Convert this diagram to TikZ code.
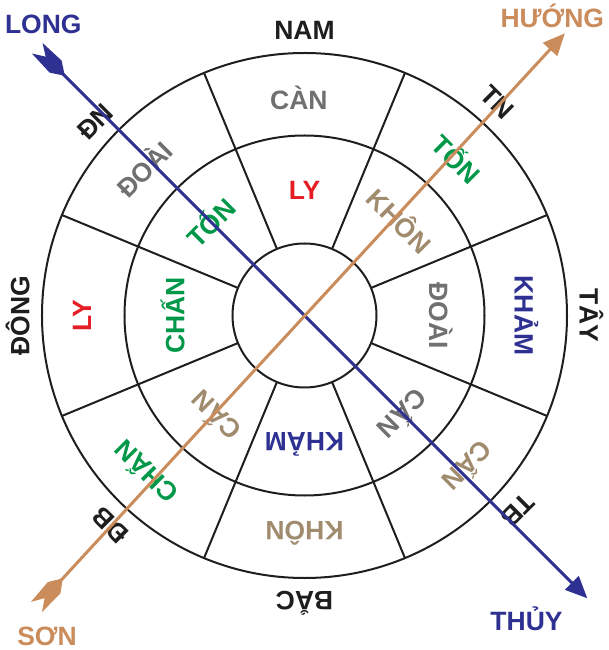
\documentclass[tikz,border=0pt]{standalone}
\usepackage{fontspec}
\setmainfont{Liberation Sans}
\usetikzlibrary{arrows.meta}
\definecolor{navy}{RGB}{46,49,146}
\definecolor{copper}{RGB}{203,140,92}
\definecolor{khaki}{RGB}{160,139,110}
\definecolor{slate}{RGB}{112,112,112}
\definecolor{jade}{RGB}{0,152,72}
\definecolor{crimson}{RGB}{228,30,36}
\definecolor{ink}{RGB}{30,30,30}
\tikzset{
  lbl/.style={font=\bfseries\fontsize{26.5}{30}\selectfont, inner sep=0pt, text height=19pt, text depth=0pt},
  ring/.style={draw=ink, line width=2pt},
  axis/.style={draw=#1, line width=3pt, shorten <=14pt, arrows={-Triangle[length=22pt,width=19pt,fill=#1]}},
  fletch/.pic={\fill (0,7.5) -- (26,8.5) -- (39,0) -- (26,-8.5) -- (0,-7.5) -- (12,0) -- cycle;},
}
\begin{document}
\begin{tikzpicture}[x=1pt,y=1pt]
  \useasboundingbox (-304.5,-334.5) rectangle (303.5,315.5);
  %% Rings
  \coordinate (O) at (0,0);
  \draw[ring] (O) circle (72pt) (O) circle (180pt) (O) circle (262.5pt);
  \foreach \a in {22.5,67.5,...,337.5}
    \draw[ring] (\a:72pt) -- (\a:262.5pt);
  %% Directions
  \node[lbl, text=ink] (nam)  at (90:285.5pt)   {NAM};
  \node[lbl, text=ink, rotate=-45] (tn) at (47.9:288pt) {TN};
  \node[lbl, text=ink, rotate=-90] (tay) at (0:284.5pt) {TÂY};
  \node[lbl, text=ink, rotate=-135] (tb) at (-42.4:289pt) {TB};
  \node[lbl, text=ink, rotate=180] (bac) at (-90:285.5pt) {BẮC};
  \node[lbl, text=ink, rotate=135] (db) at (227.2:286.4pt) {ĐB};
  \node[lbl, text=ink, rotate=90] (dong) at (180:284.5pt) {ĐÔNG};
  \node[lbl, text=ink, rotate=45] (dn) at (137.2:285.4pt) {ĐN};
  %% Outer ring
  \node[lbl, text=slate] (can) at (91.5:216pt) {CÀN};
  \node[lbl, text=jade, rotate=-45] (tonB) at (45.8:217pt) {TỐN};
  \node[lbl, text=navy, rotate=-90] (khamB) at (0:219.5pt) {KHẢM};
  \node[lbl, text=khaki, rotate=-135] (canB) at (-42.6:221pt) {CẤN};
  \node[lbl, text=khaki, rotate=180] (khonB) at (-90:215.5pt) {KHÔN};
  \node[lbl, text=jade, rotate=135] (chanB) at (224.7:222pt) {CHẤN};
  \node[lbl, text=crimson, rotate=90] (lyB) at (180:222.8pt) {LY};
  \node[lbl, text=slate, rotate=45] (doaiB) at (137.6:216pt) {ĐOÀI};
  %% Inner ring
  \node[lbl, text=crimson] (lyA) at (90:125.5pt) {LY};
  \node[lbl, text=khaki, rotate=-45] (khonA) at (44.8:133pt) {KHÔN};
  \node[lbl, text=slate, rotate=-90] (doaiA) at (0:134pt) {ĐOÀI};
  \node[lbl, text=slate, rotate=-135] (canA) at (-45:138pt) {CẤN};
  \node[lbl, text=navy, rotate=180] (khamA) at (-90:126pt) {KHẢM};
  \node[lbl, text=khaki, rotate=135] (canC) at (228.6:132.7pt) {CẤN};
  \node[lbl, text=jade, rotate=90] (chanA) at (180:129.5pt) {CHẤN};
  \node[lbl, text=jade, rotate=45] (tonA) at (135.2:131pt) {TỐN};
  %% Axes
  \coordinate (long) at (135:378pt);
  \coordinate (thuy) at (-45:400pt);
  \coordinate (son) at (227.4:396pt);
  \coordinate (huong) at (47.3:384pt);
  \draw[axis=navy] (long) -- (thuy);
  \pic[navy, rotate=-45] at (long) {fletch};
  \draw[axis=copper] (son) -- (huong);
  \pic[copper, rotate=47.4] at (son) {fletch};
  \node[lbl, text=navy] (longlbl) at (-261.2,291.5) {LONG};
  \node[lbl, text=copper] (huonglbl) at (247.8,297.2) {HƯỚNG};
  \node[lbl, text=copper] (sonlbl) at (-257.5,-320) {SƠN};
  \node[lbl, text=navy] (thuylbl) at (222,-305.8) {THỦY};
\end{tikzpicture}
\end{document}
